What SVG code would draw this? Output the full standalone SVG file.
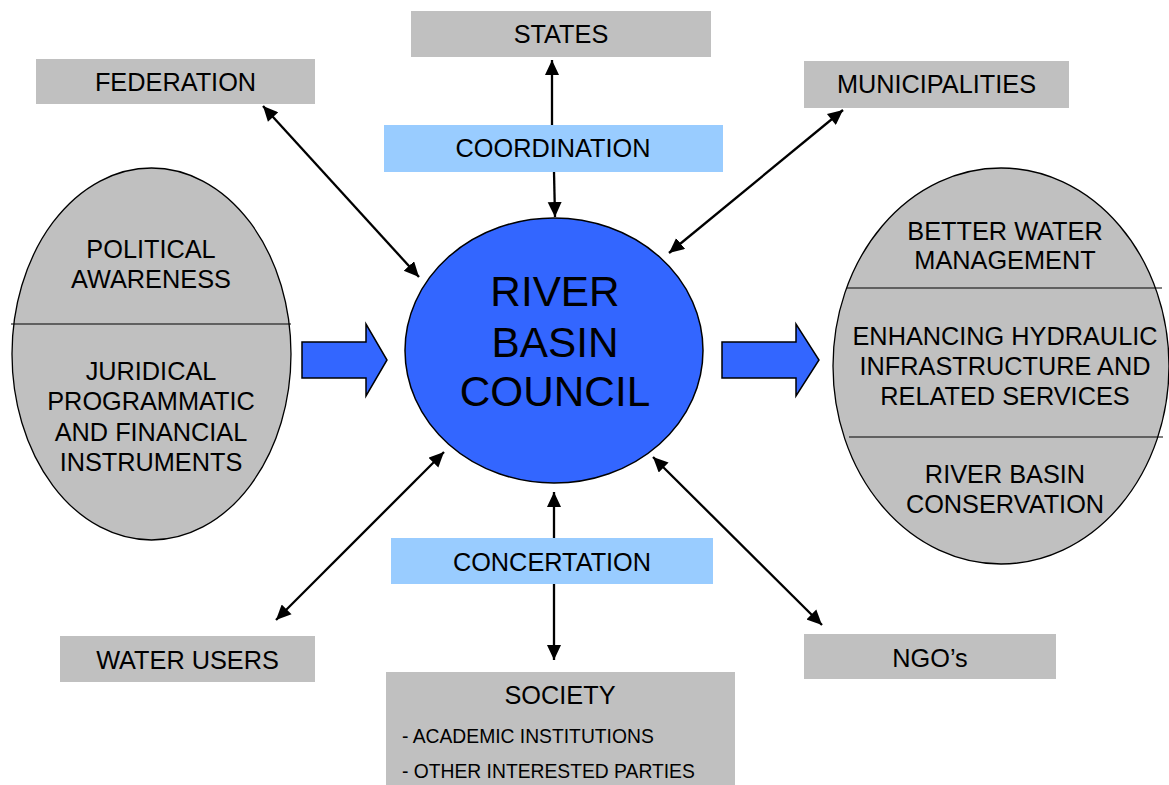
<svg xmlns="http://www.w3.org/2000/svg" width="1169" height="785" viewBox="0 0 1169 785">
  <style>
    text { font-family: "Liberation Sans", Arial, sans-serif; fill: #000; }
    .box { fill: #C0C0C0; stroke: none; }
    .lbox { fill: #99CCFF; stroke: none; }
    .lbl { font-size: 25.3px; text-anchor: middle; }
    .ell { fill: #C0C0C0; stroke: #000; stroke-width: 1.3; }
    .div { stroke: #000; stroke-width: 1.2; }
    .con { stroke: #000; stroke-width: 2.3; fill: none; marker-end: url(#ah); }
    .con2 { stroke: #000; stroke-width: 2.3; fill: none; marker-start: url(#ahs); marker-end: url(#ah); }
    .bigarrow { fill: #3366FF; stroke: #000; stroke-width: 1.5; }
    .small { font-size: 19.3px; }
  </style>
  <defs>
    <marker id="ah" markerUnits="userSpaceOnUse" markerWidth="16" markerHeight="16" refX="15" refY="7" orient="auto">
      <path d="M0,0 L15,7 L0,14 Z" fill="#000"/>
    </marker>
    <marker id="ahs" markerUnits="userSpaceOnUse" markerWidth="16" markerHeight="16" refX="0" refY="7" orient="auto">
      <path d="M15,0 L0,7 L15,14 Z" fill="#000"/>
    </marker>
  </defs>
  <rect width="1169" height="785" fill="#fff"/>

  <g id="connectors">
    <line class="con" x1="552" y1="125" x2="552" y2="60"/>
    <line class="con" x1="554" y1="172" x2="555" y2="217"/>
    <line class="con" x1="554" y1="538" x2="554" y2="492"/>
    <line class="con" x1="554" y1="584" x2="554" y2="660"/>
    <line class="con2" x1="263" y1="106" x2="419" y2="277"/>
    <line class="con2" x1="843" y1="110" x2="669" y2="253"/>
    <line class="con2" x1="276" y1="620" x2="444" y2="452"/>
    <line class="con2" x1="822" y1="625" x2="653" y2="457"/>
  </g>

  <g id="arrow-left">
    <path class="bigarrow" d="M302,342 L366,342 L366,324 L387,360 L366,396 L366,378 L302,378 Z"/>
  </g>
  <g id="arrow-right">
    <path class="bigarrow" d="M722,342 L796,342 L796,324 L819,360 L796,396 L796,378 L722,378 Z"/>
  </g>

  <g id="states">
    <rect class="box" x="411" y="11" width="300" height="46"/>
    <text class="lbl" x="561" y="43">STATES</text>
  </g>
  <g id="coordination">
    <rect class="lbox" x="384" y="125" width="339" height="47"/>
    <text class="lbl" x="553" y="157">COORDINATION</text>
  </g>
  <g id="federation">
    <rect class="box" x="36" y="59" width="279" height="45"/>
    <text class="lbl" x="175.5" y="91">FEDERATION</text>
  </g>
  <g id="municipalities">
    <rect class="box" x="804" y="61" width="265" height="47"/>
    <text class="lbl" x="936.5" y="93">MUNICIPALITIES</text>
  </g>
  <g id="water-users">
    <rect class="box" x="60" y="636" width="255" height="46"/>
    <text class="lbl" x="187.5" y="669">WATER USERS</text>
  </g>
  <g id="ngos">
    <rect class="box" x="804" y="634" width="252" height="45"/>
    <text class="lbl" x="930" y="667">NGO’s</text>
  </g>
  <g id="concertation">
    <rect class="lbox" x="391" y="538" width="322" height="46"/>
    <text class="lbl" x="552" y="571">CONCERTATION</text>
  </g>
  <g id="society">
    <rect class="box" x="386" y="672" width="349" height="113"/>
    <text class="lbl" x="560" y="704">SOCIETY</text>
    <text class="small" x="402" y="743">- ACADEMIC INSTITUTIONS</text>
    <text class="small" x="402" y="778">- OTHER INTERESTED PARTIES</text>
  </g>

  <g id="left-ellipse">
    <ellipse class="ell" cx="151.5" cy="354" rx="139.5" ry="186"/>
    <line class="div" x1="11" y1="324" x2="291" y2="324"/>
    <text class="lbl" x="151" y="258">POLITICAL</text>
    <text class="lbl" x="151" y="288">AWARENESS</text>
    <text class="lbl" x="151" y="380">JURIDICAL</text>
    <text class="lbl" x="151" y="410">PROGRAMMATIC</text>
    <text class="lbl" x="151" y="441">AND FINANCIAL</text>
    <text class="lbl" x="151" y="471">INSTRUMENTS</text>
  </g>

  <g id="right-ellipse">
    <ellipse class="ell" cx="1001" cy="366" rx="168" ry="198"/>
    <line class="div" x1="847" y1="288" x2="1162" y2="288"/>
    <line class="div" x1="849" y1="437" x2="1163" y2="437"/>
    <text class="lbl" x="1005" y="240">BETTER WATER</text>
    <text class="lbl" x="1005" y="269">MANAGEMENT</text>
    <text class="lbl" x="1005" y="345">ENHANCING HYDRAULIC</text>
    <text class="lbl" x="1005" y="375">INFRASTRUCTURE AND</text>
    <text class="lbl" x="1005" y="405">RELATED SERVICES</text>
    <text class="lbl" x="1005" y="483">RIVER BASIN</text>
    <text class="lbl" x="1005" y="513">CONSERVATION</text>
  </g>

  <g id="council">
    <ellipse cx="554" cy="350.5" rx="149" ry="132.5" fill="#3366FF" stroke="#000" stroke-width="1.5"/>
    <text x="555" y="306" font-size="42.3" text-anchor="middle">RIVER</text>
    <text x="555" y="357" font-size="42.3" text-anchor="middle">BASIN</text>
    <text x="555" y="406" font-size="42.3" text-anchor="middle">COUNCIL</text>
  </g>
</svg>
